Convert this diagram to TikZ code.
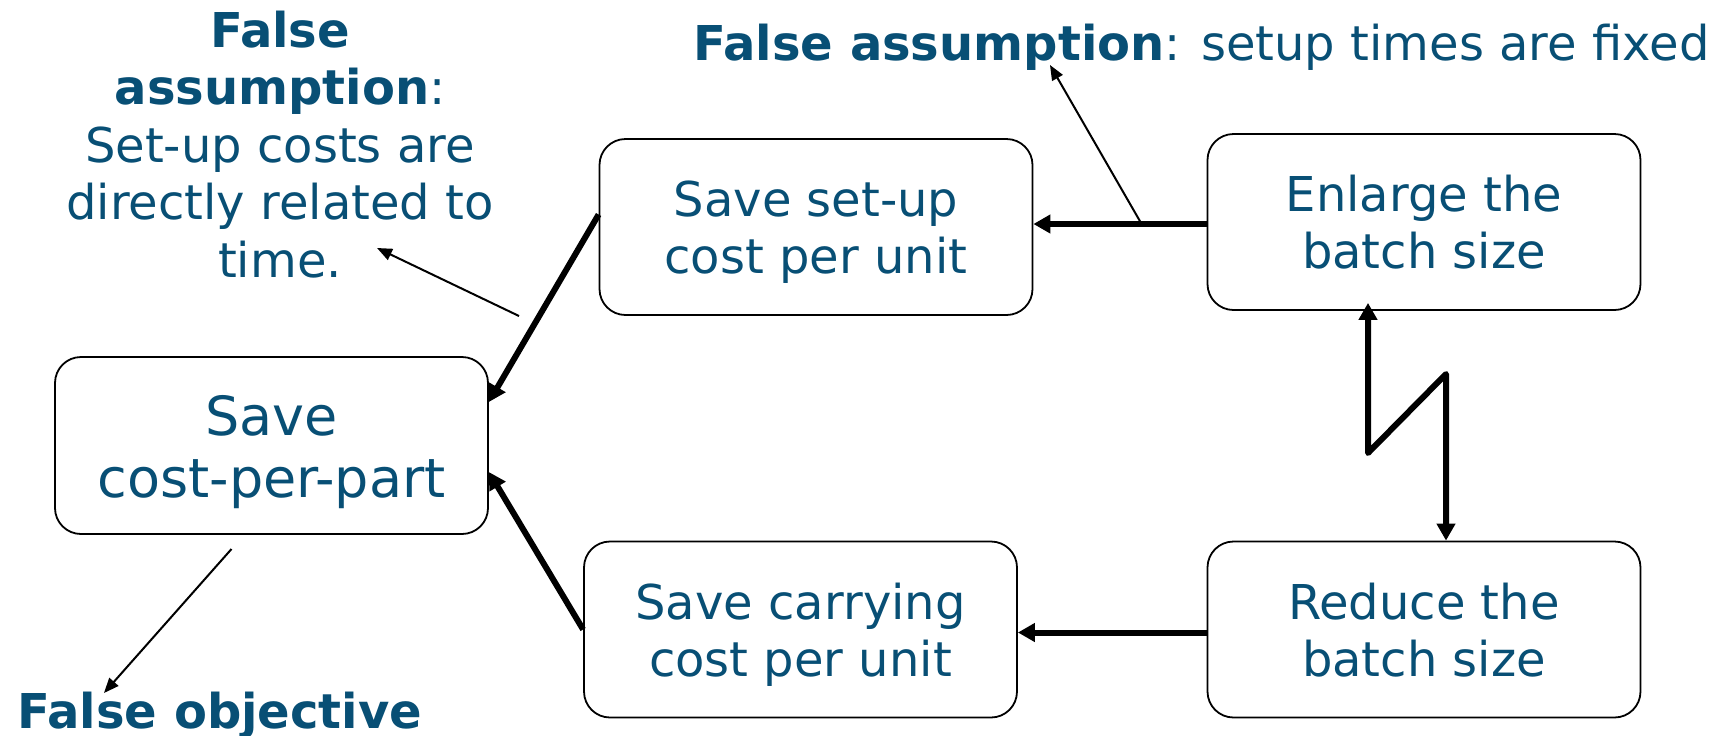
\documentclass[tikz,border=0pt]{standalone}
\usepackage{fontspec}
\setmainfont{DejaVu Sans}
\usetikzlibrary{arrows.meta,calc}
\definecolor{labelblue}{RGB}{8,79,117}
% two centred lines with a fixed top and no bottom depth
\newcommand{\boxlines}[2]{\rule{0pt}{0.76em}#1\\\raisebox{0pt}[\height][0pt]{#2}}
\begin{document}
\begin{tikzpicture}[x=0.5pt,y=-0.5pt,
  stepbox/.style={draw=black, line width=0.9pt, rounded corners=13pt,
    minimum width=216.5pt, minimum height=88pt, inner sep=0pt,
    align=center, text=labelblue, font=\fontsize{24}{28.5}\selectfont},
  flow/.style={line width=3pt, -{Triangle[length=8.5pt,width=9pt]}},
  note/.style={line width=1pt, -{Triangle[length=7.5pt,width=6pt]}},
  remark/.style={text=labelblue, inner sep=0pt, align=center,
    font=\fontsize{24}{28.75}\selectfont}]
\useasboundingbox (0,0) rectangle (1719,735);

% process boxes
\node[stepbox, minimum height=88.5pt, font=\fontsize{27}{31}\selectfont]
  (A) at (271.5,445.5) {\boxlines{Save}{cost-per-part}};
\node[stepbox] (B) at (816,227) {\boxlines{Save set-up}{cost per unit}};
\node[stepbox] (C) at (1424,222) {\boxlines{Enlarge the}{batch size}};
\node[stepbox] (D) at (800.5,629.5) {\boxlines{Save carrying}{cost per unit}};
\node[stepbox] (E) at (1424,629.5) {\boxlines{Reduce the}{batch size}};

% annotations
\node[remark, anchor=base west] (top) at (693,60)
  {\textbf{False assumption}: setup times are fixed};
\node[remark, anchor=north] (left) at (280,10.2)
  {\rule{0pt}{0.76em}\textbf{False}\\\textbf{assumption}:\\Set-up costs are\\directly related to\\time.};
\node[remark, anchor=base west] (obj) at (17,728) {\textbf{False objective}};

% main flow
\coordinate (cb) at ($(C.west)+(0,2)$);
\draw[flow] (cb) -- (cb -| B.east);
\coordinate (ed) at ($(E.west)+(0,3)$);
\draw[flow] (ed) -- (ed -| D.east);
\draw[flow] ($(B.west)+(0,-12.5)$) -- ($(A.east)+(0,-43.5)$);
\draw[flow] (D.west) -- ($(A.east)+(0,26.5)$);

% batch size zigzag
\coordinate (zzlow) at (1368,453);
\coordinate (zzhigh) at (1446,374);
\coordinate (uptip) at ($(C.south -| zzlow)+(0,-8)$);
\draw[line width=3pt, line join=round,
  {Triangle[length=8.5pt,width=9pt]}-{Triangle[length=8.5pt,width=9pt]}]
  (uptip) -- (zzlow) -- (zzhigh) -- (zzhigh |- E.north);

% pointers to the annotations
\coordinate (fork) at ($(cb)+(-65,0)$);
\coordinate (toptip) at (1050,65);
\draw[note] (fork) -- (toptip);
\coordinate (leftfrom) at (519,316);
\coordinate (lefttip) at (377,248);
\draw[note] (leftfrom) -- (lefttip);
\coordinate (objfrom) at (231.5,549);
\coordinate (objtip) at (104,693);
\draw[note] (objfrom) -- (objtip);
\end{tikzpicture}
\end{document}
